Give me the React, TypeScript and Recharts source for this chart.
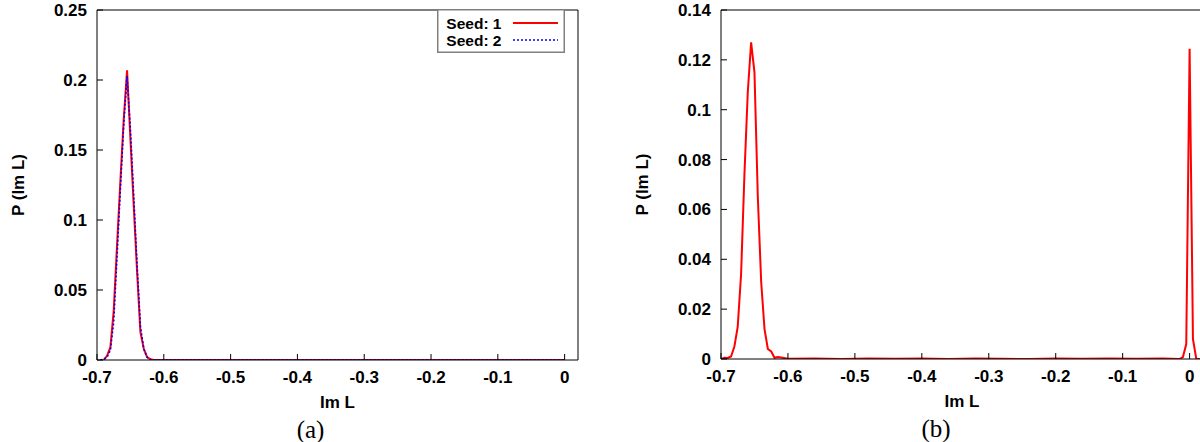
import React from "react";
import {
  LineChart,
  Line,
  XAxis,
  YAxis,
  Legend,
  ReferenceLine,
} from "recharts";

// panel (a): two seeds, Im L grid and P(Im L)
const imA1 = [-0.69, -0.685, -0.68, -0.675, -0.67, -0.665, -0.66, -0.655, -0.65, -0.645, -0.64, -0.635, -0.63, -0.625, -0.62, -0.615, 0];
const seed1 = [0, 0.003, 0.009, 0.035, 0.082, 0.128, 0.172, 0.207, 0.158, 0.11, 0.063, 0.02, 0.008, 0.002, 0.0005, 0, 0];
const imA2 = [-0.695, -0.69, -0.685, -0.68, -0.675, -0.67, -0.665, -0.66, -0.655, -0.65, -0.645, -0.64, -0.635, -0.63, -0.625, -0.62, -0.615, 0];
const seed2 = [0, 0.0005, 0.002, 0.007, 0.027, 0.074, 0.122, 0.168, 0.203, 0.165, 0.117, 0.068, 0.024, 0.008, 0.002, 0.0003, 0, 0];

// panel (b): single run
const imB = [-0.7, -0.695, -0.69, -0.685, -0.68, -0.675, -0.67, -0.665, -0.66, -0.655, -0.65, -0.645, -0.64, -0.635, -0.63, -0.625, -0.62, -0.615, -0.61, -0.6, -0.56, -0.52, -0.48, -0.44, -0.4, -0.36, -0.32, -0.28, -0.24, -0.2, -0.16, -0.12, -0.08, -0.04, -0.015, -0.01, -0.005, 0, 0.005, 0.01, 0.02];
const probB = [0, 0.0005, 0.0004, 0.001, 0.005, 0.013, 0.034, 0.074, 0.107, 0.127, 0.115, 0.065, 0.031, 0.012, 0.004, 0.003, 0.0005, 0.0008, 0.0006, 0.0001, 0.0002, 0, 0.0002, 0.0001, 0.0002, 0, 0.0002, 0.0001, 0, 0.0002, 0.0001, 0.0002, 0.0001, 0.0002, 0, 0.0008, 0.006, 0.1245, 0.008, 0, 0];

const xTicks = [-0.7, -0.6, -0.5, -0.4, -0.3, -0.2, -0.1, 0];
const yTicksA = [0, 0.05, 0.1, 0.15, 0.2, 0.25];
const yTicksB = [0, 0.02, 0.04, 0.06, 0.08, 0.1, 0.12, 0.14];

const seriesNames = ["Seed: 1", "Seed: 2"];
const seriesColors = ["#ff0000", "#0000ff"];
const seriesDash = [undefined, "2 2"];

const zip = (xs: number[], ys: number[]) => xs.map((x, i) => ({ x, p: ys[i] }));
const dataA1 = zip(imA1, seed1);
const dataA2 = zip(imA2, seed2);
const dataB = zip(imB, probB);

const font = "'Liberation Sans', Arial, sans-serif";
const fs = 17;

const XTick = (props: any) => {
  const { x, y, payload } = props;
  return (
    <g>
      <line x1={x} x2={x} y1={y} y2={y - 6} stroke="#000" strokeWidth={1} />
      <text x={x} y={y + 23} textAnchor="middle" fontFamily={font} fontWeight="bold" fontSize={fs} fill="#000">
        {String(payload.value)}
      </text>
    </g>
  );
};

const YTick = (props: any) => {
  const { x, y, payload } = props;
  return (
    <g>
      <line x1={x} x2={x + 6} y1={y} y2={y} stroke="#000" strokeWidth={1} />
      <text x={x - 10} y={y + 6} textAnchor="end" fontFamily={font} fontWeight="bold" fontSize={fs} fill="#000">
        {String(payload.value)}
      </text>
    </g>
  );
};

const xLabel = (caption: string, captionShift: number) => (props: any) => {
  const { viewBox } = props;
  const cx = viewBox.x + viewBox.width / 2;
  return (
    <g>
      <text x={cx} y={viewBox.y + 48} textAnchor="middle" fontFamily={font} fontWeight="bold" fontSize={fs} fill="#000">
        Im L
      </text>
      <text x={cx + captionShift} y={viewBox.y + 78} textAnchor="middle" fontFamily="'Liberation Serif', 'DejaVu Serif', serif" fontSize={25} fill="#000">
        {caption}
      </text>
    </g>
  );
};

const yLabel = (lx: number) => (props: any) => {
  const { viewBox } = props;
  const cy = viewBox.y + viewBox.height / 2;
  return (
    <text
      x={lx}
      y={cy}
      textAnchor="middle"
      dominantBaseline="central"
      transform={`rotate(-90, ${lx}, ${cy})`}
      fontFamily={font}
      fontWeight="bold"
      fontSize={fs}
      fill="#000"
    >
      P (Im L)
    </text>
  );
};

const renderLegend = (props: any) => {
  const { payload } = props;
  return (
    <svg width={128} height={44} style={{ display: "block" }}>
      <rect x={0.75} y={0.75} width={126.5} height={42.5} fill="#fff" stroke="#808080" strokeWidth={1.5} />
      {(payload || []).map((p: any, i: number) => {
        const k = Math.max(0, seriesNames.indexOf(p.value));
        return (
          <g key={p.value}>
            <text x={64.5} y={19.5 + i * 17.5} textAnchor="end" fontFamily={font} fontWeight="bold" fontSize={15.5} fill="#000">
              {p.value}
            </text>
            <line
              x1={76}
              x2={121}
              y1={14 + i * 17}
              y2={14 + i * 17}
              stroke={seriesColors[k]}
              strokeWidth={k === 0 ? 2 : 1.6}
              strokeDasharray={seriesDash[k]}
            />
          </g>
        );
      })}
    </svg>
  );
};

export default function App() {
  return (
    <div style={{ position: "fixed", left: 0, top: 0, width: 1200, height: 442, overflow: "hidden", background: "#fff" }}>
      <div style={{ position: "absolute", left: 0, top: 0 }}>
        <LineChart width={600} height={442} margin={{ top: 10, right: 22, bottom: 0, left: 0 }}>
          <XAxis
            dataKey="x"
            type="number"
            domain={[-0.7, 0.02]}
            ticks={xTicks}
            interval={0}
            allowDataOverflow
            height={82}
            tickSize={0}
            tickMargin={0}
            tickLine={false}
            tick={<XTick />}
            axisLine={{ stroke: "#000", strokeWidth: 1 }}
            label={{ content: xLabel("(a)", -27) }}
          />
          <YAxis
            type="number"
            domain={[0, 0.25]}
            ticks={yTicksA}
            interval={0}
            allowDataOverflow
            width={97}
            tickSize={0}
            tickMargin={0}
            tickLine={false}
            tick={<YTick />}
            axisLine={{ stroke: "#000", strokeWidth: 1 }}
            label={{ content: yLabel(18.5) }}
          />
          <ReferenceLine y={0.25} stroke="#000" strokeWidth={1} />
          <ReferenceLine x={0.02} stroke="#000" strokeWidth={1} />
          <Legend
            layout="horizontal"
            verticalAlign="middle"
            align="center"
            content={renderLegend}
            wrapperStyle={{ left: 437, top: 9, width: 128, height: 44 }}
          />
          <Line
            data={dataA1}
            dataKey="p"
            name={seriesNames[0]}
            type="linear"
            stroke={seriesColors[0]}
            strokeWidth={2}
            dot={false}
            isAnimationActive={false}
          />
          <Line
            data={dataA2}
            dataKey="p"
            name={seriesNames[1]}
            type="linear"
            stroke={seriesColors[1]}
            strokeWidth={1.6}
            strokeDasharray={seriesDash[1]}
            dot={false}
            isAnimationActive={false}
          />
        </LineChart>
      </div>
      <div style={{ position: "absolute", left: 620, top: 0 }}>
        <LineChart width={600} height={442} margin={{ top: 10, right: 17, bottom: 0, left: 0 }}>
          <XAxis
            dataKey="x"
            type="number"
            domain={[-0.7, 0.02]}
            ticks={xTicks}
            interval={0}
            allowDataOverflow
            height={83}
            tickSize={0}
            tickMargin={0}
            tickLine={false}
            tick={<XTick />}
            axisLine={{ stroke: "#000", strokeWidth: 1 }}
            label={{ content: xLabel("(b)", -26) }}
          />
          <YAxis
            type="number"
            domain={[0, 0.14]}
            ticks={yTicksB}
            interval={0}
            allowDataOverflow
            width={101}
            tickSize={0}
            tickMargin={0}
            tickLine={false}
            tick={<YTick />}
            axisLine={{ stroke: "#000", strokeWidth: 1 }}
            label={{ content: yLabel(22.5) }}
          />
          <ReferenceLine y={0.14} stroke="#000" strokeWidth={1} />
          <Line
            data={dataB}
            dataKey="p"
            name="P"
            type="linear"
            stroke="#ff0000"
            strokeWidth={2}
            dot={false}
            isAnimationActive={false}
          />
        </LineChart>
      </div>
    </div>
  );
}
